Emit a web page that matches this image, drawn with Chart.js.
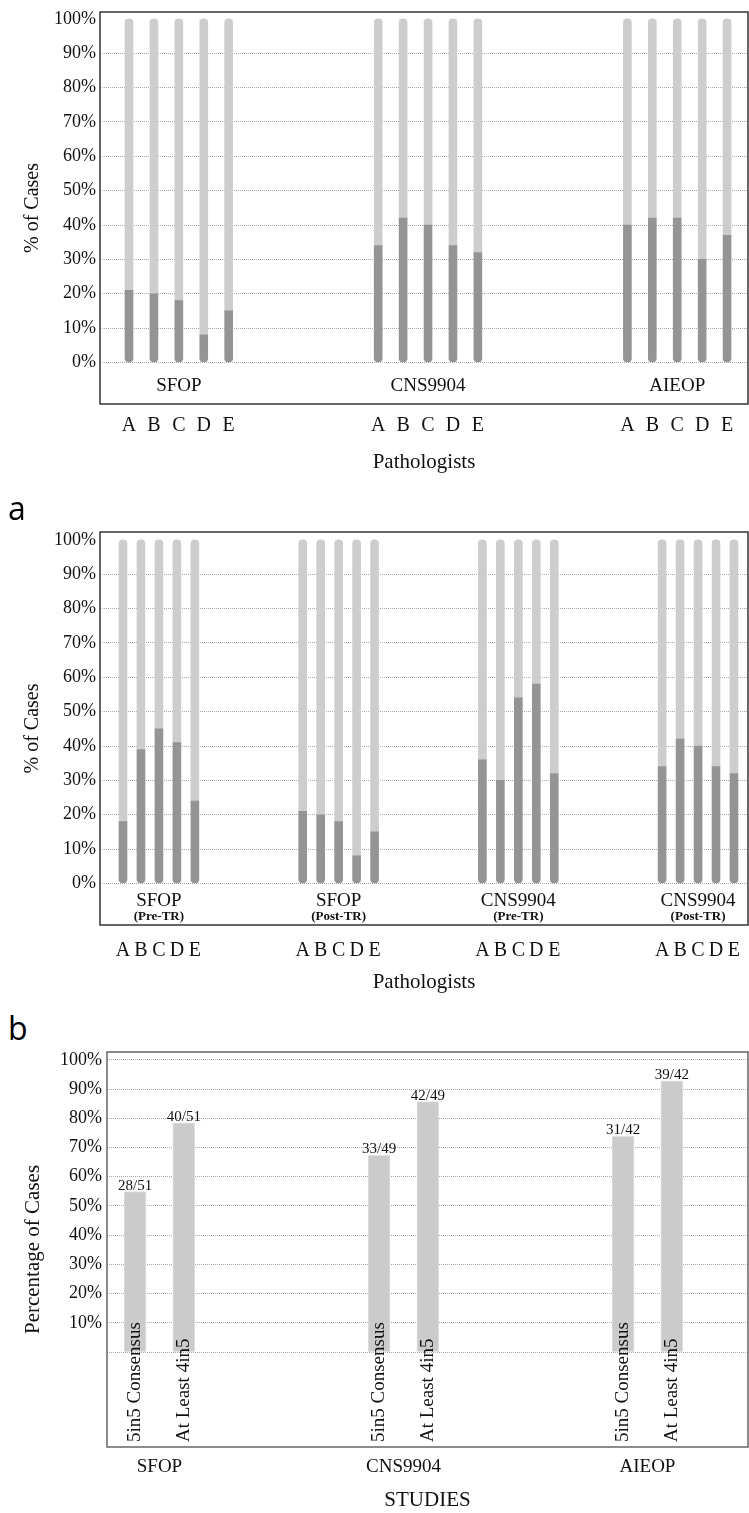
<!DOCTYPE html>
<html>
<head>
<meta charset="utf-8">
<script src="https://cdn.jsdelivr.net/npm/chart.js@4.4.1/dist/chart.umd.min.js"></script>
<style>
  body { margin: 0; background: #fff; }
  #page { position: relative; width: 749px; height: 1513px; }
  canvas { position: absolute; left: 0; }
  .tag { position: absolute; left: 8px; font-family: "Open Sans", sans-serif; font-size: 32px; line-height: 32px; color: #000; }
</style>
</head>
<body>
<div id="page">
  <canvas id="chartStudies" width="749" height="490" style="top:0"></canvas>
  <div class="tag" style="top:492px">a</div>
  <canvas id="chartTraining" width="749" height="510" style="top:490px"></canvas>
  <div class="tag" style="top:1012px">b</div>
  <canvas id="chartConsensus" width="749" height="513" style="top:1000px"></canvas>
</div>
<script>
// ---- data ----
const pathologists = ['A', 'B', 'C', 'D', 'E'];
const studies = ['SFOP', 'CNS9904', 'AIEOP'];
const percentTicks = [0, 10, 20, 30, 40, 50, 60, 70, 80, 90, 100];

// top panel: % of cases per pathologist, by study
const sfopShare = [21, 20, 18, 8, 15];
const cnsShare = [34, 42, 40, 34, 32];
const aieopShare = [40, 42, 42, 30, 37];

// panel a: before / after training review
const trainingGroups = ['SFOP', 'SFOP', 'CNS9904', 'CNS9904'];
const trainingPhases = ['(Pre-TR)', '(Post-TR)', '(Pre-TR)', '(Post-TR)'];
const sfopPreShare = [18, 39, 45, 41, 24];
const sfopPostShare = [21, 20, 18, 8, 15];
const cnsPreShare = [36, 30, 54, 58, 32];
const cnsPostShare = [34, 42, 40, 34, 32];

// panel b: consensus counts
const consensusLabels = ['5in5 Consensus', 'At Least 4in5'];
const fullConsensus = [28, 33, 31];
const atLeastFour = [40, 42, 39];
const casesPerStudy = [51, 49, 42];

const DARK = '#949494';
const LIGHT = '#cdcdcd';
const GRID = '#a9a9a9';
const TEXT = '#111';
const SERIF = '"Liberation Serif", "Times New Roman", serif';

function boxPlugin(color, width) {
  return {
    id: 'box',
    afterDraw(chart) {
      const { ctx, chartArea: a } = chart;
      ctx.save();
      ctx.strokeStyle = color;
      ctx.lineWidth = width;
      ctx.strokeRect(a.left, a.top, a.right - a.left, a.bottom - a.top);
      ctx.restore();
    }
  };
}

function groupLabelPlugin(names, subs, nameOffset, subOffset) {
  return {
    id: 'groupLabels',
    afterDraw(chart) {
      const { ctx, chartArea } = chart;
      const x = chart.scales.x;
      ctx.save();
      ctx.fillStyle = TEXT;
      ctx.textAlign = 'center';
      ctx.textBaseline = 'middle';
      names.forEach((n, g) => {
        const cx = x.getPixelForValue(g * 10 + 2);
        ctx.font = '19px ' + SERIF;
        ctx.fillText(n, cx, chartArea.bottom - nameOffset);
        if (subs) {
          ctx.font = 'bold 13px ' + SERIF;
          ctx.fillText(subs[g], cx, chartArea.bottom - subOffset);
        }
      });
      ctx.restore();
    }
  };
}

function pathologistChart(id, names, subs, shares, geo) {
  const positions = [];
  const dark = [];
  const light = [];
  shares.forEach((row, g) => {
    row.forEach((v, p) => {
      const x = g * 10 + p;
      positions.push(x);
      dark.push({ x: x, y: v });
      light.push({ x: x, y: 100 - v });
    });
  });

  return new Chart(document.getElementById(id), {
    type: 'bar',
    data: {
      datasets: [
        { data: dark, backgroundColor: DARK, barThickness: 8, borderSkipped: false,
          borderRadius: { topLeft: 0, topRight: 0, bottomLeft: 4, bottomRight: 4 } },
        { data: light, backgroundColor: LIGHT, barThickness: 8, borderSkipped: false,
          borderRadius: { topLeft: 4, topRight: 4, bottomLeft: 0, bottomRight: 0 } }
      ]
    },
    options: {
      responsive: false,
      animation: false,
      layout: { padding: { top: geo.top, right: 1, left: 0, bottom: 0 } },
      plugins: { legend: { display: false }, tooltip: { enabled: false } },
      scales: {
        x: {
          type: 'linear', offset: false, stacked: true,
          min: geo.xMin, max: geo.xMax,
          grid: { display: false },
          border: { display: false },
          afterBuildTicks: s => { s.ticks = positions.map(v => ({ value: v })); },
          ticks: {
            autoSkip: false, maxRotation: 0, padding: geo.letterPad, color: TEXT,
            font: { family: SERIF, size: 20 },
            callback: (v, i) => pathologists[i % 5]
          },
          title: {
            display: true, text: 'Pathologists', color: TEXT,
            font: { family: SERIF, size: 21 },
            padding: { top: 0, bottom: geo.titlePad }
          },
          afterFit: s => { s.height = geo.xHeight; s.paddingLeft = 0; s.paddingRight = 0; }
        },
        y: {
          stacked: true, min: geo.yMin, max: geo.yMax,
          afterBuildTicks: s => { s.ticks = percentTicks.map(v => ({ value: v })); },
          grid: {
            drawTicks: false, lineWidth: 1,
            color: c => (c.tick && c.tick.value === 100) ? 'rgba(0,0,0,0)' : GRID
          },
          border: { display: false, dash: [1, 1] },
          ticks: {
            padding: 4, color: TEXT, font: { family: SERIF, size: 18 },
            callback: v => v + '%'
          },
          title: {
            display: true, text: '% of Cases', color: TEXT,
            font: { family: SERIF, size: 20 },
            padding: { top: 21, bottom: 0 }
          },
          afterFit: s => { s.width = 100; s.paddingTop = 0; s.paddingBottom = 0; }
        }
      }
    },
    plugins: [boxPlugin('#333', 1.5), groupLabelPlugin(names, subs, geo.nameOffset, geo.subOffset)]
  });
}

pathologistChart('chartStudies', studies, null, [sfopShare, cnsShare, aieopShare], {
  top: 12, xMin: -1.164, xMax: 24.84, yMin: -12.1, yMax: 102,
  letterPad: 2, xHeight: 86, titlePad: 15.4, nameOffset: 18, subOffset: 0
});

pathologistChart('chartTraining', trainingGroups, trainingPhases,
  [sfopPreShare, sfopPostShare, cnsPreShare, cnsPostShare], {
  top: 42, xMin: -1.28, xMax: 34.78, yMin: -12.1, yMax: 102.3,
  letterPad: 6, xHeight: 75, titlePad: 5.4, nameOffset: 24, subOffset: 8
});

// ---- panel b ----
const consensusSeries = [fullConsensus, atLeastFour];

const consensusText = {
  id: 'consensusText',
  afterDatasetsDraw(chart) {
    const { ctx, chartArea } = chart;
    ctx.save();
    ctx.fillStyle = TEXT;
    chart.data.datasets.forEach((ds, d) => {
      chart.getDatasetMeta(d).data.forEach((bar, i) => {
        ctx.font = '15px ' + SERIF;
        ctx.textAlign = 'center';
        ctx.textBaseline = 'alphabetic';
        ctx.fillText(consensusSeries[d][i] + '/' + casesPerStudy[i], bar.x, bar.y - 2);
        ctx.save();
        ctx.translate(bar.x, chartArea.bottom - 5);
        ctx.rotate(-Math.PI / 2);
        ctx.font = '19px ' + SERIF;
        ctx.textAlign = 'left';
        ctx.textBaseline = 'middle';
        ctx.fillText(ds.label, 0, 0);
        ctx.restore();
      });
    });
    ctx.restore();
  }
};

new Chart(document.getElementById('chartConsensus'), {
  type: 'bar',
  data: {
    datasets: consensusSeries.map((counts, d) => ({
      label: consensusLabels[d],
      data: counts.map((c, i) => ({ x: i * 10 + (d === 0 ? -1 : 1), y: c / casesPerStudy[i] * 100 })),
      backgroundColor: '#cbcbcb',
      borderColor: '#e2e2e2',
      borderWidth: 1,
      borderSkipped: false,
      barThickness: 22
    }))
  },
  options: {
    responsive: false,
    animation: false,
    layout: { padding: { top: 52, right: 1, left: 0, bottom: 0 } },
    plugins: { legend: { display: false }, tooltip: { enabled: false } },
    scales: {
      x: {
        type: 'linear', offset: false, stacked: true,
        min: -2.15, max: 24.12,
        grid: { display: false },
        border: { display: false },
        afterBuildTicks: s => { s.ticks = studies.map((_, i) => ({ value: i * 10 })); },
        ticks: {
          autoSkip: false, maxRotation: 0, padding: 1, color: TEXT,
          font: { family: SERIF, size: 19 },
          callback: (v, i) => studies[i]
        },
        title: {
          display: true, text: 'STUDIES', color: TEXT,
          font: { family: SERIF, size: 21 },
          padding: { top: 0, bottom: 0.4 }
        },
        afterFit: s => { s.height = 66; s.paddingLeft = 0; s.paddingRight = 0; }
      },
      y: {
        min: -32.5, max: 102.7,
        afterBuildTicks: s => { s.ticks = percentTicks.map(v => ({ value: v })); },
        grid: { drawTicks: false, lineWidth: 1, color: GRID },
        border: { display: false, dash: [1, 1] },
        ticks: {
          padding: 5, color: TEXT, font: { family: SERIF, size: 18 },
          callback: v => v === 0 ? '' : v + '%'
        },
        title: {
          display: true, text: 'Percentage of Cases', color: TEXT,
          font: { family: SERIF, size: 21 },
          padding: { top: 21, bottom: 0 }
        },
        afterFit: s => { s.width = 107; s.paddingTop = 0; s.paddingBottom = 0; }
      }
    }
  },
  plugins: [boxPlugin('#666', 1.5), consensusText]
});
</script>
</body>
</html>
